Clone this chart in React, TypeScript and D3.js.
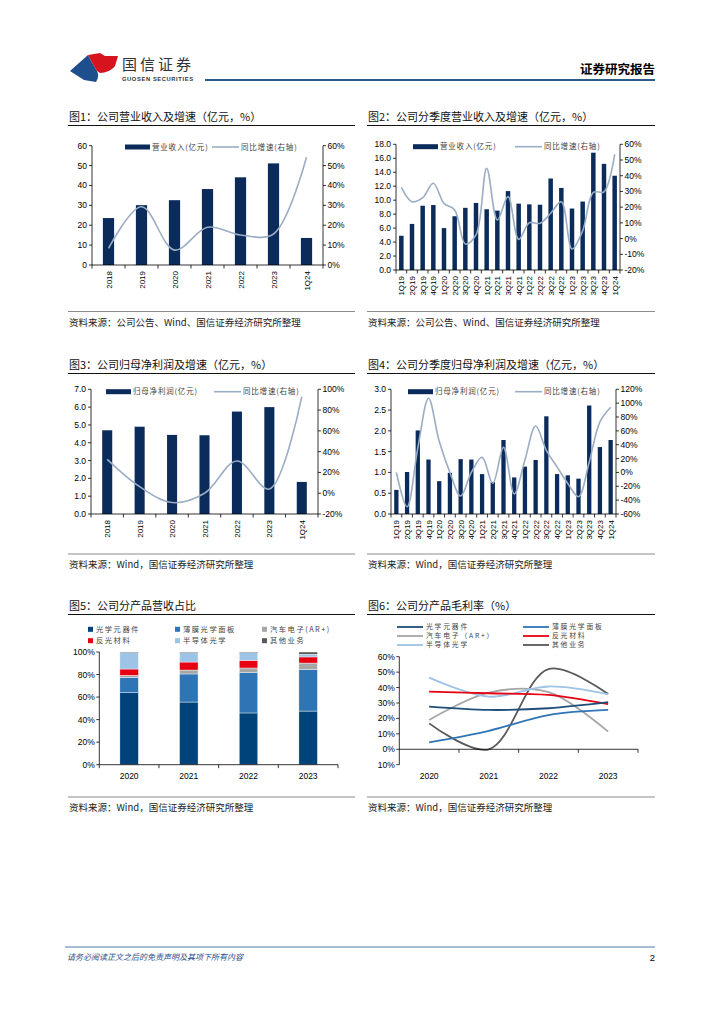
import * as d3 from "d3";

const NUM = "'Liberation Sans', Arial, 'Noto Sans CJK SC', sans-serif";
const CJK = "'Noto Sans CJK SC', 'Liberation Sans', sans-serif";

const BAR = "#0B2B5B";
const YOY = "#9AADC4";

// 图1 年度营收
const years = ["2018", "2019", "2020", "2021", "2022", "2023", "1Q24"];
const revenue = [23.6, 30.1, 32.6, 38.2, 44.1, 51.1, 13.6];
const revenueYoy = [8.4, 29.3, 7.5, 19.0, 15.1, 15.6, 54.2];

// 图2 季度营收
const quarters = [
  "1Q19", "2Q19", "3Q19", "4Q19", "1Q20", "2Q20", "3Q20", "4Q20",
  "1Q21", "2Q21", "3Q21", "4Q21", "1Q22", "2Q22", "3Q22", "4Q22",
  "1Q23", "2Q23", "3Q23", "4Q23", "1Q24",
];
const qRevenue = [4.9, 6.6, 9.2, 9.3, 6.0, 7.7, 8.9, 9.6, 8.7, 8.5, 11.3, 9.5, 9.4, 9.35, 13.1, 11.75, 8.8, 9.8, 16.8, 15.2, 13.5];
const qRevenueYoy = [32.6, 23.5, 26, 35.2, 22.4, 18.2, -3.5, 2.3, 44.7, 11.8, 26.7, -0.5, 10.1, 9.7, 16.1, 23.5, -6.6, 5, 29.4, 29.8, 53.6];

// 图3 年度归母净利润
const profit = [4.7, 4.9, 4.44, 4.42, 5.75, 6.0, 1.8];
const profitYoy = [32.6, 6.3, -9, 0, 31, 4, 92.9];

// 图4 季度归母净利润
const qProfit = [0.58, 1.01, 2.01, 1.31, 0.79, 0.99, 1.32, 1.31, 0.96, 0.77, 1.78, 0.88, 1.14, 1.3, 2.35, 0.96, 0.93, 0.85, 2.61, 1.61, 1.78];
const qProfitYoy = [0, -49.5, 35, 107, 45, 0, -34, 0, 21.8, -15.7, 36.2, -31, 18, 67, 32, 8, -16, -35, 15, 73, 94];

// 图5 / 图6 分产品
const segYears = ["2020", "2021", "2022", "2023"];
const segNames = ["光学元器件", "薄膜光学面板", "汽车电子(AR+)", "反光材料", "半导体光学", "其他业务"];
const segColors = ["#00427A", "#2E75B6", "#A6A6A6", "#E60012", "#9DC3E6", "#595959"];
const shareOptics = [63.9, 55.6, 45.9, 47.6];
const shareFilm = [13.6, 24.9, 35.7, 36.7];
const shareAuto = [1.8, 3.5, 4.2, 5.9];
const shareReflect = [5.6, 7.1, 6.8, 5.4];
const shareSemi = [14.5, 8.3, 6.8, 2.4];
const shareOther = [0.6, 0.6, 0.6, 2.0];

const gmNames = ["光学元器件", "薄膜光学面板", "汽车电子（AR+）", "反光材料", "半导体光学", "其他业务"];
const gmColors = ["#1F4E79", "#2E75B6", "#A6A6A6", "#E60012", "#9DC3E6", "#595959"];
const gmOptics = [27.6, 25.5, 26.6, 30.5];
const gmFilm = [4.5, 12, 22.2, 25.5];
const gmAuto = [19, 36.7, 37, 11.4];
const gmReflect = [37.3, 36.3, 35.2, 29.2];
const gmSemi = [46.4, 34.1, 40.7, 35.6];
const gmOther = [16.8, 0, 52, 35.8];

const smooth = d3.curveCatmullRom.alpha(0.5);

function Frame({ x0, x1, title, yTitle, yRule, source }: any) {
  return (
    <g>
      <text x={x0 + 1} y={yTitle} fontFamily={CJK} fontSize={11} fill="#111">{title}</text>
      <line x1={x0} x2={x1} y1={yTitle + 4.5} y2={yTitle + 4.5} stroke="#111" strokeWidth={1.2} />
      <line x1={x0} x2={x1} y1={yRule} y2={yRule} stroke="#8c8c8c" strokeWidth={1} />
      <text x={x0 + 1} y={yRule + 14} fontFamily={CJK} fontSize={9.5} fill="#222">{source}</text>
    </g>
  );
}

function Combo(p: any) {
  const x = d3.scaleBand().domain(p.cats).range([p.x0, p.x1]);
  const yl = d3.scaleLinear().domain(p.left).range([p.bottom, p.top]);
  const yr = d3.scaleLinear().domain(p.right).range([p.bottom, p.top]);
  const bw = x.bandwidth() * p.barFrac;
  const cx = (c: string) => (x(c) as number) + x.bandwidth() / 2;
  const lTicks = d3.range(p.left[0], p.left[1] + 1e-9, p.leftStep);
  const rTicks = d3.range(p.right[0], p.right[1] + 1e-9, p.rightStep);
  const path = d3
    .line<number>()
    .x((_, i) => cx(p.cats[i]))
    .y((d) => yr(d))
    .curve(smooth)(p.yoy);
  const bounds = [...p.cats.map((c: string) => x(c) as number), p.x1];
  return (
    <g fontFamily={NUM}>
      {p.bars.map((v: number, i: number) => (
        <rect key={i} x={cx(p.cats[i]) - bw / 2} y={yl(v)} width={bw} height={p.bottom - yl(v)} fill={BAR} />
      ))}
      <path d={path || ""} fill="none" stroke={YOY} strokeWidth={1.6} />
      {/* axes */}
      <line x1={p.x0} x2={p.x0} y1={p.top} y2={p.bottom} stroke="#000" strokeWidth={0.8} />
      <line x1={p.x1} x2={p.x1} y1={p.top} y2={p.bottom} stroke="#000" strokeWidth={0.8} />
      <line x1={p.x0} x2={p.x1} y1={p.bottom} y2={p.bottom} stroke="#000" strokeWidth={0.8} />
      {lTicks.map((t: number) => (
        <g key={"l" + t}>
          <line x1={p.x0 - 3} x2={p.x0} y1={yl(t)} y2={yl(t)} stroke="#000" strokeWidth={0.8} />
          <text x={p.x0 - 5} y={yl(t) + 3} textAnchor="end" fontSize={8.5} fill="#000">{p.leftFmt(t)}</text>
        </g>
      ))}
      {rTicks.map((t: number) => (
        <g key={"r" + t}>
          <line x1={p.x1} x2={p.x1 + 3} y1={yr(t)} y2={yr(t)} stroke="#000" strokeWidth={0.8} />
          <text x={p.x1 + 4.5} y={yr(t) + 3} fontSize={8.5} fill="#000">{`${t}%`}</text>
        </g>
      ))}
      {bounds.map((b: number, i: number) => (
        <line key={"b" + i} x1={b} x2={b} y1={p.bottom} y2={p.bottom + 3.5} stroke="#000" strokeWidth={0.8} />
      ))}
      {p.cats.map((c: string) => (
        <text key={c} transform={`translate(${cx(c) + 3},${p.bottom + 6}) rotate(-90)`} textAnchor="end" fontSize={8} fill="#000">{c}</text>
      ))}
      {/* legend */}
      <rect x={p.leg.bx} y={p.leg.y - 2.5} width={25} height={5} fill={BAR} />
      <text x={p.leg.bx + 27} y={p.leg.y + 2.7} fontFamily={CJK} fontSize={7.5} letterSpacing={0.8} fill="#444">{p.leg.barLabel}</text>
      <line x1={p.leg.lx} x2={p.leg.lx + 27} y1={p.leg.y} y2={p.leg.y} stroke={YOY} strokeWidth={1.6} />
      <text x={p.leg.lx + 29} y={p.leg.y + 2.7} fontFamily={CJK} fontSize={7.5} letterSpacing={0.8} fill="#444">同比增速(右轴)</text>
    </g>
  );
}

function Stacked() {
  const x0 = 99.3, x1 = 338, top = 652, bottom = 764.7;
  const x = d3.scaleBand().domain(segYears).range([x0, x1]);
  const y = d3.scaleLinear().domain([0, 100]).range([bottom, top]);
  const series = [shareOptics, shareFilm, shareAuto, shareReflect, shareSemi, shareOther];
  const table = segYears.map((yr, i) => {
    const row: any = { year: yr };
    segNames.forEach((n, k) => (row[n] = series[k][i]));
    return row;
  });
  const stacked = d3.stack().keys(segNames)(table);
  const bw = x.bandwidth() * 0.31;
  const legendCols = [88, 175, 262];
  const legendRows = [629.3, 640.7];
  return (
    <g fontFamily={NUM}>
      {stacked.map((s, k) =>
        s.map((d, i) => (
          <rect key={k + "-" + i} x={(x(segYears[i]) as number) + x.bandwidth() / 2 - bw / 2} y={y(d[1])}
            width={bw} height={y(d[0]) - y(d[1])} fill={segColors[k]} stroke="#fff" strokeWidth={0.4} />
        ))
      )}
      <line x1={x0} x2={x0} y1={top} y2={bottom} stroke="#000" strokeWidth={0.8} />
      <line x1={x0} x2={x1} y1={bottom} y2={bottom} stroke="#000" strokeWidth={0.8} />
      {d3.range(0, 101, 20).map((t) => (
        <g key={t}>
          <line x1={x0 - 3} x2={x0} y1={y(t)} y2={y(t)} stroke="#000" strokeWidth={0.8} />
          <text x={x0 - 4.5} y={y(t) + 3} textAnchor="end" fontSize={8.5}>{`${t}%`}</text>
        </g>
      ))}
      {[...segYears.map((c) => x(c) as number), x1].map((b, i) => (
        <line key={i} x1={b} x2={b} y1={bottom} y2={bottom + 3.5} stroke="#000" strokeWidth={0.8} />
      ))}
      {segYears.map((c) => (
        <text key={c} x={(x(c) as number) + x.bandwidth() / 2} y={bottom + 14} textAnchor="middle" fontSize={8.5}>{c}</text>
      ))}
      {segNames.map((n, k) => {
        const lx = legendCols[k % 3];
        const ly = legendRows[Math.floor(k / 3)];
        return (
          <g key={n}>
            <rect x={lx} y={ly - 2.5} width={5} height={5} fill={segColors[k]} />
            <text x={lx + 8} y={ly + 2.7} fontFamily={CJK} fontSize={7.3} letterSpacing={1.5} fill="#444">{n}</text>
          </g>
        );
      })}
    </g>
  );
}

function Margins() {
  const x0 = 399.3, x1 = 638, top = 656.7, bottom = 764.7;
  const x = d3.scaleBand().domain(segYears).range([x0, x1]);
  const y = d3.scaleLinear().domain([-10, 60]).range([bottom, top]);
  const series = [gmOptics, gmFilm, gmAuto, gmReflect, gmSemi, gmOther];
  const cx = (c: string) => (x(c) as number) + x.bandwidth() / 2;
  const line = d3.line<number>().x((_, i) => cx(segYears[i])).y((d) => y(d)).curve(smooth);
  const legendCols = [397, 523];
  const legendRows = [627, 636, 645];
  const order = [5, 2, 4, 3, 1, 0];
  return (
    <g fontFamily={NUM}>
      {order.map((k) => (
        <path key={k} d={line(series[k]) || ""} fill="none" stroke={gmColors[k]} strokeWidth={1.8} />
      ))}
      <line x1={x0} x2={x0} y1={top} y2={bottom} stroke="#000" strokeWidth={0.8} />
      <line x1={x0} x2={x1} y1={y(0)} y2={y(0)} stroke="#000" strokeWidth={0.8} />
      {d3.range(-10, 61, 10).map((t) => (
        <g key={t}>
          <line x1={x0 - 3} x2={x0} y1={y(t)} y2={y(t)} stroke="#000" strokeWidth={0.8} />
          <text x={x0 - 4.5} y={y(t) + 3} textAnchor="end" fontSize={8.5}>{`${Math.abs(t)}%`}</text>
        </g>
      ))}
      {[...segYears.slice(1).map((c) => x(c) as number), x1].map((b, i) => (
        <line key={i} x1={b} x2={b} y1={y(0)} y2={y(0) + 3.5} stroke="#000" strokeWidth={0.8} />
      ))}
      {segYears.map((c) => (
        <text key={c} x={cx(c)} y={bottom + 14} textAnchor="middle" fontSize={8.5}>{c}</text>
      ))}
      {gmNames.map((n, k) => {
        const lx = legendCols[k % 2];
        const ly = legendRows[Math.floor(k / 2)];
        return (
          <g key={n}>
            <line x1={lx} x2={lx + 26} y1={ly} y2={ly} stroke={gmColors[k]} strokeWidth={1.8} />
            <text x={lx + 29} y={ly + 2.4} fontFamily={CJK} fontSize={6.8} letterSpacing={1.8} fill="#444">{n}</text>
          </g>
        );
      })}
    </g>
  );
}

export default function App() {
  const src1 = "资料来源：公司公告、Wind、国信证券经济研究所整理";
  const src2 = "资料来源：Wind，国信证券经济研究所整理";
  return (
    <div style={{ position: "absolute", left: 0, top: 0 }}>
      <svg width={724} height={1024} style={{ display: "block" }}>
        <rect width={724} height={1024} fill="#fff" />
        {/* header */}
        <path d="M70,71 L88,55 C91,61 94,66 97,71 C99,75 98,79 96,82 L84,80 Z" fill="#1F4E8C" />
        <path d="M88,55 L100,53 L105,56 L118,56 L115,66 C112,70 106,73 100,73 L97,71 C94,66 91,61 88,55 Z" fill="#D7141E" />
        <text x={122} y={70} fontFamily={CJK} fontSize={15} letterSpacing={3} fill="#333">国信证券</text>
        <text x={122} y={81} fontFamily={NUM} fontSize={5.8} fontWeight="bold" fill="#333" textLength={71}>GUOSEN SECURITIES</text>
        <line x1={205} x2={655} y1={80} y2={80} stroke="#2C5C8A" strokeWidth={2} />
        <text x={655} y={74} textAnchor="end" fontFamily={CJK} fontSize={12.5} fontWeight="bold" fill="#000">证券研究报告</text>

        <Frame x0={68} x1={355} yTitle={121} yRule={311.5} title="图1：公司营业收入及增速（亿元，%）" source={src1} />
        <Frame x0={367} x1={655} yTitle={121} yRule={311.5} title="图2：公司分季度营业收入及增速（亿元，%）" source={src1} />
        <Frame x0={68} x1={355} yTitle={369} yRule={554} title="图3：公司归母净利润及增速（亿元，%）" source={src2} />
        <Frame x0={367} x1={655} yTitle={369} yRule={554} title="图4：公司分季度归母净利润及增速（亿元，%）" source={src2} />
        <Frame x0={68} x1={355} yTitle={610} yRule={797} title="图5：公司分产品营收占比" source={src2} />
        <Frame x0={367} x1={655} yTitle={610} yRule={797} title="图6：公司分产品毛利率（%）" source={src2} />

        <Combo cats={years} bars={revenue} yoy={revenueYoy} x0={92} x1={323} top={145.7} bottom={265}
          left={[0, 60]} leftStep={10} leftFmt={d3.format("d")} right={[0, 60]} rightStep={10} barFrac={0.34}
          leg={{ bx: 125, lx: 212, y: 147, barLabel: "营业收入(亿元)" }} />
        <Combo cats={quarters} bars={qRevenue} yoy={qRevenueYoy} x0={396} x1={620} top={144.3} bottom={270}
          left={[0, 18]} leftStep={2} leftFmt={d3.format(".1f")} right={[-20, 60]} rightStep={10} barFrac={0.42}
          leg={{ bx: 413, lx: 515, y: 146.7, barLabel: "营业收入(亿元)" }} />
        <Combo cats={years} bars={profit} yoy={profitYoy} x0={91} x1={318} top={389.3} bottom={514}
          left={[0, 7]} leftStep={1} leftFmt={d3.format(".1f")} right={[-20, 100]} rightStep={20} barFrac={0.31}
          leg={{ bx: 106, lx: 214, y: 391.7, barLabel: "归母净利润(亿元)" }} />
        <Combo cats={quarters} bars={qProfit} yoy={qProfitYoy} x0={391} x1={616} top={389.3} bottom={514}
          left={[0, 3]} leftStep={0.5} leftFmt={d3.format(".1f")} right={[-60, 120]} rightStep={20} barFrac={0.4}
          leg={{ bx: 408, lx: 515, y: 391.7, barLabel: "归母净利润(亿元)" }} />

        <Stacked />
        <Margins />

        {/* footer */}
        <line x1={65} x2={655} y1={947} y2={947} stroke="#4A7AAA" strokeWidth={1} />
        <text x={67} y={960} fontFamily={CJK} fontSize={8} fontStyle="italic" fill="#1F4E8C">请务必阅读正文之后的免责声明及其项下所有内容</text>
        <text x={655} y={961} textAnchor="end" fontFamily={NUM} fontSize={9.5} fill="#000">2</text>
      </svg>
    </div>
  );
}
